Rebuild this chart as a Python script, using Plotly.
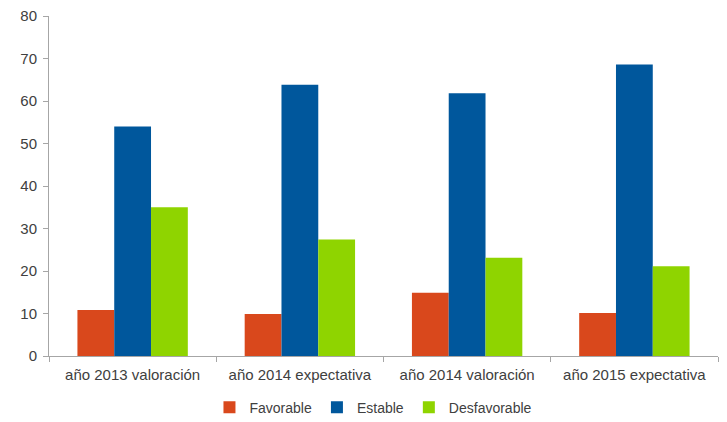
import plotly.graph_objects as go

categories = ["año 2013 valoración", "año 2014 expectativa", "año 2014 valoración", "año 2015 expectativa"]
favorable = [10.8, 9.9, 14.9, 10.1]
estable = [54.0, 63.8, 61.8, 68.6]
desfavorable = [35.0, 27.4, 23.1, 21.1]
y_ticks = [0, 10, 20, 30, 40, 50, 60, 70, 80]

fig = go.Figure()
fig.add_trace(go.Bar(name="Favorable", x=categories, y=favorable, marker_color="#d9481c", marker_line_width=0))
fig.add_trace(go.Bar(name="Estable", x=categories, y=estable, marker_color="#00579c", marker_line_width=0))
fig.add_trace(go.Bar(name="Desfavorable", x=categories, y=desfavorable, marker_color="#8fd400", marker_line_width=0))

fig.update_layout(
    width=727, height=422,
    margin=dict(l=49, r=9, t=16, b=66, autoexpand=False),
    paper_bgcolor="white", plot_bgcolor="white",
    barmode="group", bargap=0.34, bargroupgap=0,
    font=dict(family="Liberation Sans, Arial, sans-serif", size=14, color="#404040"),
    showlegend=True,
    legend=dict(orientation="h", x=0.485, xanchor="center", y=-0.105, yanchor="top",
                font=dict(size=14, color="#404040"), itemwidth=30, traceorder="normal"),
)
fig.update_xaxes(showline=True, linecolor="#a6a6a6", linewidth=1, ticks="outside",
                 tickson="boundaries", ticklen=5, tickcolor="#a6a6a6", showgrid=False,
                 automargin=False, ticklabelstandoff=5, tickfont=dict(size=15, color="#404040"))
fig.update_yaxes(range=[0, 80], tickvals=y_ticks, showline=True, linecolor="#a6a6a6", linewidth=1,
                 ticks="outside", ticklen=5, tickcolor="#a6a6a6", showgrid=False, zeroline=False,
                 automargin=False, ticklabelstandoff=3, tickfont=dict(size=15, color="#404040"))

fig.write_html("out.html", config={"displayModeBar": False},
               post_script="document.body.style.margin='0';document.body.style.overflow='hidden';")
